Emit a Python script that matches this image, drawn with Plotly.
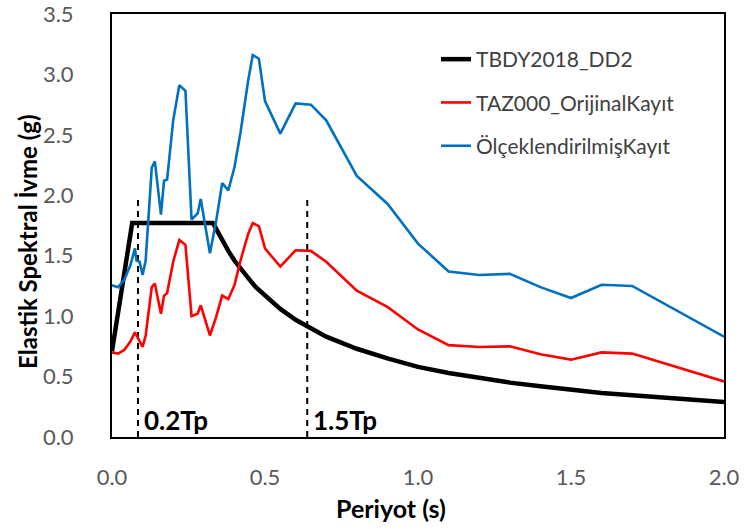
import plotly.graph_objects as go

# Design spectrum (TBDY 2018, DD-2)
design_T = [0.00, 0.066, 0.33, 0.34, 0.36, 0.38, 0.40, 0.42, 0.45, 0.47, 0.50, 0.55,
            0.60, 0.65, 0.70, 0.80, 0.90, 1.00, 1.10, 1.20, 1.30, 1.40, 1.50, 1.60,
            1.70, 1.80, 1.90, 2.00]
design_Sa = [0.71, 1.77, 1.77, 1.72, 1.62, 1.54, 1.46, 1.39, 1.30, 1.24, 1.17, 1.06,
             0.97, 0.90, 0.83, 0.73, 0.65, 0.58, 0.53, 0.49, 0.45, 0.42, 0.39, 0.365,
             0.345, 0.325, 0.305, 0.29]

# Record spectra (shared period grid)
record_T = [0.00, 0.02, 0.04, 0.06, 0.075, 0.08, 0.09, 0.10, 0.11, 0.13, 0.14, 0.16,
            0.17, 0.18, 0.20, 0.22, 0.24, 0.26, 0.28, 0.29, 0.32, 0.34, 0.36, 0.38,
            0.40, 0.42, 0.445, 0.46, 0.48, 0.50, 0.55, 0.60, 0.65, 0.70, 0.80, 0.90,
            1.00, 1.10, 1.20, 1.30, 1.40, 1.50, 1.60, 1.70, 2.00]
original_Sa = [0.70, 0.69, 0.72, 0.79, 0.865, 0.84, 0.79, 0.745, 0.84, 1.24, 1.27, 1.02,
               1.17, 1.19, 1.45, 1.63, 1.59, 1.00, 1.02, 1.09, 0.84, 0.99, 1.17, 1.14,
               1.255, 1.46, 1.68, 1.77, 1.745, 1.56, 1.41, 1.545, 1.54, 1.45, 1.21, 1.076,
               0.89, 0.76, 0.745, 0.75, 0.685, 0.64, 0.70, 0.69, 0.46]
scaled_Sa = [1.255, 1.24, 1.30, 1.42, 1.56, 1.46, 1.45, 1.34, 1.46, 2.23, 2.28, 1.84,
             2.12, 2.13, 2.62, 2.91, 2.865, 1.80, 1.85, 1.97, 1.52, 1.78, 2.10, 2.04,
             2.23, 2.52, 2.95, 3.16, 3.13, 2.78, 2.51, 2.76, 2.75, 2.62, 2.16, 1.93,
             1.60, 1.37, 1.34, 1.35, 1.24, 1.15, 1.26, 1.25, 0.83]

# Period markers
marker_T = [0.085, 0.638]
marker_labels = ["0.2Tp", "1.5Tp"]
marker_top = 2.0
label_y = 0.14

x_ticks = [0.0, 0.5, 1.0, 1.5, 2.0]
y_ticks = [0.0, 0.5, 1.0, 1.5, 2.0, 2.5, 3.0, 3.5]

FONT = "Lato"
W, H = 746, 530
ML, MR, MT, MB = 112, 22, 14, 93
PW, PH = W - ML - MR, H - MT - MB


def px_x(p):
    return (p - ML) / PW


def px_y(p):
    return (H - MB - p) / PH


fig = go.Figure()

for t in marker_T:
    fig.add_trace(go.Scatter(
        x=[t, t], y=[0, marker_top], mode="lines",
        line=dict(color="black", width=2, dash="6px,5px"),
        showlegend=False, hoverinfo="skip"))

fig.add_trace(go.Scatter(
    x=design_T, y=design_Sa, mode="lines", name="TBDY2018_DD2",
    line=dict(color="black", width=4.5), legendgroup="a"))
fig.add_trace(go.Scatter(
    x=record_T, y=original_Sa, mode="lines", name="TAZ000_OrijinalKayıt",
    line=dict(color="#FF0000", width=2.6), legendgroup="b"))
fig.add_trace(go.Scatter(
    x=record_T, y=scaled_Sa, mode="lines", name="ÖlçeklendirilmişKayıt",
    line=dict(color="#0070C0", width=2.6), legendgroup="c"))

for t, lab in zip(marker_T, marker_labels):
    fig.add_annotation(x=t, y=label_y, text="<b>%s</b>" % lab, showarrow=False,
                       xanchor="left", yanchor="middle", xshift=4,
                       font=dict(family=FONT, size=26, color="black"))

# Axis titles
fig.add_annotation(xref="paper", yref="paper", x=px_x(391), y=px_y(508),
                   text="<b>Periyot (s)</b>", showarrow=False,
                   xanchor="center", yanchor="middle",
                   font=dict(family=FONT, size=25, color="black"))
fig.add_annotation(xref="paper", yref="paper", x=px_x(27), y=px_y(242),
                   text="<b>Elastik Spektral İvme (g)</b>", showarrow=False, textangle=-90,
                   xanchor="center", yanchor="middle",
                   font=dict(family=FONT, size=24, color="black"))

axis_common = dict(showgrid=False, zeroline=False, showline=True, linecolor="black",
                   linewidth=2, mirror=True, ticks="", tickformat=".1f",
                   ticklabeloverflow="allow", automargin=False,
                   tickfont=dict(family=FONT, size=22, color="#595959"))

fig.update_xaxes(range=[0, 2.0], tickvals=x_ticks, ticklabelstandoff=20, **axis_common)
fig.update_yaxes(range=[0, 3.5], tickvals=y_ticks, ticklabelstandoff=32, **axis_common)

fig.update_layout(
    width=W, height=H,
    margin=dict(l=ML, r=MR, t=MT, b=MB, autoexpand=False),
    plot_bgcolor="white", paper_bgcolor="white",
    showlegend=True,
    legend=dict(x=px_x(436), y=px_y(39), xanchor="left", yanchor="top",
                bgcolor="rgba(0,0,0,0)", tracegroupgap=13,
                font=dict(family=FONT, size=21, color="#404040")),
)

fig.write_html("out.html")
